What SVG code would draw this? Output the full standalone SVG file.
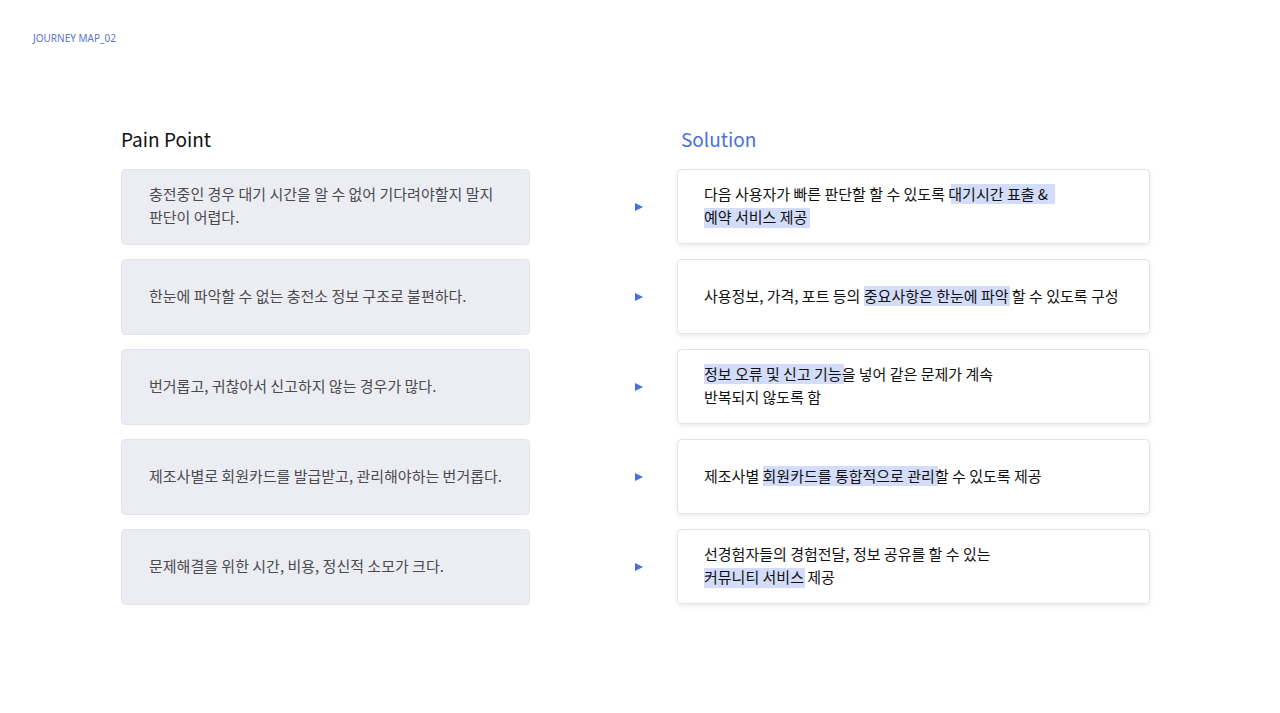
<svg xmlns="http://www.w3.org/2000/svg" width="1280" height="713" viewBox="0 0 1280 713">
<style>
text{font-family:"Noto Sans CJK KR","Noto Sans",sans-serif;}
.l{fill:#ecedf2;stroke:#e2e4ea;stroke-width:1}
.r{fill:#fff;stroke:#e3e4e8;stroke-width:1}
.lt{font-size:15px;fill:#4a4a4f}
.rt{font-size:15px;fill:#111}
.hl{fill:#d3ddfa}
.c{stroke:url(#g);stroke-width:1.5;fill:none}
</style>
<defs>
<linearGradient id="g" x1="0" x2="1"><stop offset="0" stop-color="#5a7fe6" stop-opacity="0.1"/><stop offset="1" stop-color="#4a6fe0"/></linearGradient>
<marker id="a" markerWidth="8" markerHeight="8" refX="7" refY="4" orient="auto" markerUnits="userSpaceOnUse"><path d="M0,0L8,4L0,8Z" fill="#4a6fe0"/></marker>
<filter id="s" x="-5%" y="-20%" width="110%" height="150%"><feDropShadow dx="0" dy="2" stdDeviation="2" flood-color="#000" flood-opacity="0.08"/></filter>
</defs>
<rect width="1280" height="713" fill="#fff"/>
<text x="33" y="42" font-size="10" fill="#5b74c8" style="font-family:'Noto Sans',sans-serif">JOURNEY MAP_02</text>
<text x="121" y="147" font-size="19" fill="#111">Pain Point</text>
<text x="681" y="147" font-size="19" fill="#4a6fe0">Solution</text>
<g id="connectors">
<line class="c" x1="565" y1="207" x2="642" y2="207" marker-end="url(#a)"/>
<line class="c" x1="565" y1="297" x2="642" y2="297" marker-end="url(#a)"/>
<line class="c" x1="565" y1="387" x2="642" y2="387" marker-end="url(#a)"/>
<line class="c" x1="565" y1="477" x2="642" y2="477" marker-end="url(#a)"/>
<line class="c" x1="565" y1="567" x2="642" y2="567" marker-end="url(#a)"/>
</g>
<g id="p1"><rect class="l" x="121.5" y="169.5" width="408" height="75" rx="4"/><text class="lt" x="149" y="200">충전중인 경우 대기 시간을 알 수 없어 기다려야할지 말지</text><text class="lt" x="149" y="223">판단이 어렵다.</text></g>
<g id="p2"><rect class="l" x="121.5" y="259.5" width="408" height="75" rx="4"/><text class="lt" x="149" y="302">한눈에 파악할 수 없는 충전소 정보 구조로 불편하다.</text></g>
<g id="p3"><rect class="l" x="121.5" y="349.5" width="408" height="75" rx="4"/><text class="lt" x="149" y="392">번거롭고, 귀찮아서 신고하지 않는 경우가 많다.</text></g>
<g id="p4"><rect class="l" x="121.5" y="439.5" width="408" height="75" rx="4"/><text class="lt" x="149" y="482">제조사별로 회원카드를 발급받고, 관리해야하는 번거롭다.</text></g>
<g id="p5"><rect class="l" x="121.5" y="529.5" width="408" height="75" rx="4"/><text class="lt" x="149" y="572">문제해결을 위한 시간, 비용, 정신적 소모가 크다.</text></g>
<g id="s1"><rect class="r" filter="url(#s)" x="677.5" y="169.5" width="472" height="74" rx="4"/>
<rect class="hl" x="951" y="184" width="104" height="20"/><rect class="hl" x="704" y="208" width="106" height="20"/>
<text class="rt" x="704" y="200">다음 사용자가 빠른 판단할 할 수 있도록 대기시간 표출 &amp;</text><text class="rt" x="704" y="223">예약 서비스 제공</text></g>
<g id="s2"><rect class="r" filter="url(#s)" x="677.5" y="259.5" width="472" height="74" rx="4"/>
<rect class="hl" x="864" y="286" width="146" height="20"/>
<text class="rt" x="704" y="302">사용정보, 가격, 포트 등의 중요사항은 한눈에 파악 할 수 있도록 구성</text></g>
<g id="s3"><rect class="r" filter="url(#s)" x="677.5" y="349.5" width="472" height="74" rx="4"/>
<rect class="hl" x="704" y="364" width="140" height="20"/>
<text class="rt" x="704" y="380">정보 오류 및 신고 기능을 넣어 같은 문제가 계속</text><text class="rt" x="704" y="403">반복되지 않도록 함</text></g>
<g id="s4"><rect class="r" filter="url(#s)" x="677.5" y="439.5" width="472" height="74" rx="4"/>
<rect class="hl" x="763" y="466" width="175" height="20"/>
<text class="rt" x="704" y="482">제조사별 회원카드를 통합적으로 관리할 수 있도록 제공</text></g>
<g id="s5"><rect class="r" filter="url(#s)" x="677.5" y="529.5" width="472" height="74" rx="4"/>
<rect class="hl" x="704" y="568" width="101" height="20"/>
<text class="rt" x="704" y="560">선경험자들의 경험전달, 정보 공유를 할 수 있는</text><text class="rt" x="704" y="583">커뮤니티 서비스 제공</text></g>
</svg>
